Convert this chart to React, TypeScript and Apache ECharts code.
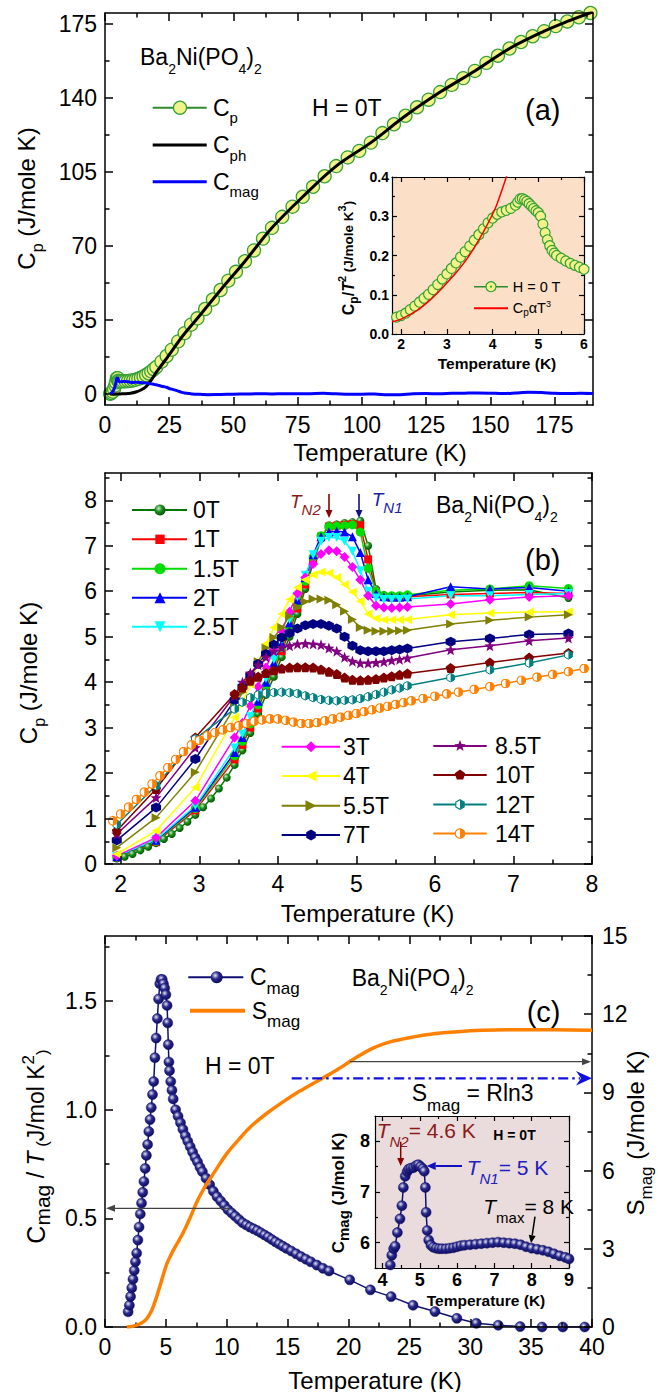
import React, { useEffect, useRef } from 'react';
import * as echarts from 'echarts';

const FONT = 'Arial, "Liberation Sans", Helvetica, sans-serif';

// ======================= DATA =======================
// (a) main panel: Cp, Cph, Cmag (J/mole K) vs T (K)
const aCpT = [2, 2.5, 3, 3.5, 4, 4.3, 4.6, 4.8, 5, 5.2, 5.5, 6, 7, 8, 9, 10, 11, 12, 13, 14, 15, 16, 17, 18, 19, 20, 22, 24, 26, 28.5, 31, 33.5, 36, 39, 42, 45, 48, 51, 54.5, 58, 61.5, 65, 69, 73, 77, 81, 85.5, 90, 94.5, 99, 103.5, 108, 112.5, 117, 121.5, 126, 130.5, 135, 139.5, 144, 148.5, 153, 157.5, 162, 166.5, 171, 175.5, 180, 184.5, 189];
const aCpV = [0.13, 0.46, 1.1, 2.4, 4.1, 5.5, 7.4, 7.5, 7.52, 6.3, 5.9, 5.95, 6.0, 6.05, 6.15, 6.3, 6.5, 6.8, 7.2, 7.7, 8.3, 9.0, 9.8, 10.7, 11.7, 12.8, 15.3, 18.0, 21.0, 24.9, 28.8, 32.8, 35.8, 40.2, 44.7, 49.2, 53.6, 57.8, 62.8, 67.9, 73.5, 78.6, 83.8, 88.6, 93.3, 98.0, 103.0, 107.8, 111.9, 115.0, 118.9, 123.4, 127.6, 131.6, 135.6, 139.2, 142.8, 146.2, 149.4, 152.8, 156.6, 160.0, 163.4, 166.5, 169.2, 171.6, 174.0, 176.2, 178.2, 180.2];
const aPhT = [2, 4, 6, 8, 10, 12, 14, 16, 18, 20, 22, 24, 26, 28.5, 31, 36, 45, 54.5, 65, 77, 90, 103.5, 117, 130.5, 144, 157.5, 171, 180, 190];
const aPhV = [0, 0.02, 0.06, 0.15, 0.4, 0.95, 1.9, 3.5, 6.6, 10.3, 13.6, 16.9, 20.3, 24.6, 28.6, 35.8, 49.2, 62.8, 78.6, 93.3, 107.8, 118.9, 131.6, 142.8, 152.8, 163.4, 171.6, 176.2, 180.8];
const aMagT = [2, 3, 3.5, 4, 4.3, 4.6, 5, 5.2, 5.5, 6, 7, 8, 9, 10, 11, 12, 13, 14, 15, 16, 17, 18, 19, 20, 21, 22, 23, 24, 25, 26, 27, 28, 29, 30, 31, 32, 33, 34, 36, 38, 40, 45, 50, 55, 60, 65, 70, 75, 80, 85, 90, 95, 100, 105, 110, 115, 120, 125, 130, 135, 140, 145, 150, 155, 160, 165, 170, 175, 180, 185, 190];
const aMagV = [0.15, 1.1, 2.3, 4.1, 5.6, 7.4, 7.6, 6.4, 5.85, 5.8, 5.9, 5.95, 5.8, 5.6, 5.5, 5.55, 5.5, 5.4, 5.35, 5.2, 5.0, 4.8, 4.6, 4.4, 4.0, 3.7, 3.45, 3.2, 2.6, 2.3, 1.95, 1.6, 1.2, 0.75, 0.5, 0.35, 0.2, 0.05, -0.1, -0.2, -0.3, -0.2, -0.1, 0, 0.1, 0.05, 0.1, 0.1, 0.15, 0.3, 0.1, -0.1, -0.1, 0, -0.4, -0.3, 0.1, 0.2, 0.1, 0.3, 0.4, 0.5, 0.4, 0.2, 0.5, 0.8, 0.7, 0.3, 0.2, 0.3, 0.2];
const aXMajor = [0, 25, 50, 75, 100, 125, 150, 175];
const aXMinor = [12.5, 37.5, 62.5, 87.5, 112.5, 137.5, 162.5, 187.5];
const aYMajor = [0, 35, 70, 105, 140, 175];
const aYMinor = [17.5, 52.5, 87.5, 122.5, 157.5];

// (a) inset: Cp/T^2 vs T
const iaT = [1.9, 2.0, 2.1, 2.2, 2.3, 2.4, 2.5, 2.6, 2.7, 2.8, 2.9, 3.0, 3.1, 3.2, 3.3, 3.4, 3.5, 3.6, 3.7, 3.8, 3.9, 4.0, 4.1, 4.2, 4.3, 4.4, 4.5, 4.55, 4.6, 4.65, 4.7, 4.75, 4.8, 4.85, 4.9, 4.95, 5.0, 5.05, 5.1, 5.15, 5.2, 5.25, 5.3, 5.35, 5.4, 5.5, 5.6, 5.7, 5.8, 5.9, 6.0];
const iaV = [0.043, 0.047, 0.053, 0.062, 0.071, 0.081, 0.091, 0.101, 0.113, 0.126, 0.14, 0.153, 0.167, 0.181, 0.196, 0.21, 0.224, 0.239, 0.253, 0.268, 0.283, 0.295, 0.305, 0.311, 0.315, 0.32, 0.328, 0.336, 0.344, 0.345, 0.342, 0.338, 0.332, 0.326, 0.32, 0.314, 0.309, 0.3, 0.28, 0.258, 0.24, 0.225, 0.213, 0.206, 0.2, 0.193, 0.186, 0.18, 0.175, 0.17, 0.165];
const iaFitT = [1.8, 2.0, 2.2, 2.4, 2.6, 2.8, 3.0, 3.2, 3.4, 3.6, 3.8, 4.0, 4.1, 4.2, 4.3, 4.36];
const iaFitV = [0.031, 0.038, 0.05, 0.064, 0.083, 0.105, 0.13, 0.156, 0.185, 0.22, 0.26, 0.305, 0.332, 0.365, 0.4, 0.425];
const iaXMajor = [2, 3, 4, 5, 6];
const iaXMinor = [2.5, 3.5, 4.5, 5.5];
const iaYMajor = [0, 0.1, 0.2, 0.3, 0.4];
const iaYMinor = [0.05, 0.15, 0.25, 0.35];

// (b) Cp vs T in fields
const bLowT = [1.95, 2.45, 2.95, 3.45];
const bDenseT = [3.55, 3.65, 3.75, 3.85, 3.95, 4.05, 4.15, 4.25, 4.35, 4.45, 4.55, 4.65, 4.75, 4.85, 4.95, 5.05, 5.15, 5.25, 5.35, 5.45, 5.55, 5.65];
const bHighT = [6.2, 6.7, 7.2, 7.7];
const b0T_T = [1.95, 2.05, 2.15, 2.25, 2.35, 2.45, 2.55, 2.65, 2.75, 2.85, 2.95, 3.05, 3.15, 3.25, 3.35, 3.45, 3.55, 3.65, 3.75, 3.85, 3.95, 4.05, 4.15, 4.25, 4.35, 4.45, 4.55, 4.65, 4.75, 4.85, 4.95, 5.05, 5.15, 5.25, 5.35, 5.45, 5.55, 5.65, 6.2, 6.7, 7.2, 7.7];
const b0T = [0.12, 0.16, 0.22, 0.3, 0.38, 0.46, 0.55, 0.66, 0.79, 0.93, 1.08, 1.25, 1.44, 1.66, 1.9, 2.18, 2.5, 2.88, 3.3, 3.72, 4.12, 4.55, 5.0, 5.5, 6.05, 6.62, 7.15, 7.45, 7.47, 7.5, 7.52, 7.55, 7.0, 6.05, 5.92, 5.9, 5.88, 5.9, 5.98, 6.02, 6.03, 5.85];
const b1T = [0.15, 0.48, 1.18, 2.3, 2.62, 3.0, 3.42, 3.85, 4.25, 4.68, 5.12, 5.62, 6.15, 6.7, 7.2, 7.42, 7.44, 7.46, 7.48, 7.45, 6.7, 6.0, 5.88, 5.86, 5.86, 5.88, 5.93, 5.95, 5.97, 5.95];
const b1_5T = [0.15, 0.5, 1.22, 2.38, 2.7, 3.08, 3.5, 3.92, 4.33, 4.76, 5.2, 5.7, 6.22, 6.75, 7.22, 7.42, 7.43, 7.44, 7.46, 7.3, 6.5, 6.0, 5.9, 5.9, 5.9, 5.92, 6.02, 6.05, 6.12, 6.06];
const b2T = [0.16, 0.52, 1.25, 2.45, 2.78, 3.16, 3.58, 4.0, 4.42, 4.85, 5.3, 5.8, 6.3, 6.8, 7.2, 7.3, 7.32, 7.3, 7.2, 6.85, 6.25, 5.95, 5.88, 5.87, 5.87, 5.88, 6.1, 6.05, 6.08, 6.0];
const b2_5T = [0.17, 0.54, 1.28, 2.55, 2.86, 3.24, 3.66, 4.08, 4.5, 4.93, 5.38, 5.87, 6.35, 6.8, 7.1, 7.18, 7.18, 7.1, 6.88, 6.45, 6.0, 5.85, 5.82, 5.82, 5.82, 5.83, 5.9, 5.9, 5.93, 5.95];
const b3T = [0.18, 0.58, 1.39, 2.78, 3.1, 3.48, 3.9, 4.32, 4.72, 5.12, 5.55, 5.95, 6.3, 6.6, 6.82, 6.9, 6.88, 6.75, 6.53, 6.25, 5.9, 5.68, 5.64, 5.63, 5.64, 5.65, 5.72, 5.81, 5.87, 5.9];
const b4T = [0.22, 0.73, 1.68, 3.22, 3.55, 3.95, 4.4, 4.85, 5.2, 5.5, 5.82, 6.08, 6.25, 6.36, 6.42, 6.4, 6.3, 6.15, 5.98, 5.78, 5.5, 5.4, 5.37, 5.37, 5.37, 5.38, 5.48, 5.52, 5.54, 5.55];
const b5_5T = [0.36, 1.02, 2.02, 3.45, 3.78, 4.12, 4.45, 4.75, 4.98, 5.2, 5.45, 5.65, 5.77, 5.83, 5.83, 5.8, 5.7, 5.56, 5.38, 5.2, 5.14, 5.12, 5.12, 5.12, 5.13, 5.14, 5.28, 5.36, 5.43, 5.48];
const b7T = [0.52, 1.24, 2.31, 3.6, 3.9, 4.15, 4.4, 4.62, 4.82, 4.98, 5.08, 5.18, 5.25, 5.28, 5.28, 5.24, 5.18, 5.0, 4.8, 4.7, 4.68, 4.68, 4.68, 4.7, 4.72, 4.74, 4.89, 4.96, 5.05, 5.07];
const b8_5T = [0.66, 1.46, 2.56, 3.7, 4.0, 4.2, 4.38, 4.55, 4.68, 4.76, 4.8, 4.84, 4.85, 4.84, 4.82, 4.75, 4.68, 4.55, 4.46, 4.42, 4.42, 4.43, 4.45, 4.48, 4.5, 4.53, 4.71, 4.8, 4.91, 4.97];
const b10T = [0.73, 1.65, 2.78, 3.74, 3.88, 4.03, 4.12, 4.2, 4.26, 4.3, 4.32, 4.33, 4.33, 4.32, 4.28, 4.23, 4.18, 4.1, 4.05, 4.04, 4.05, 4.07, 4.1, 4.13, 4.16, 4.19, 4.31, 4.43, 4.54, 4.64];
const b12T = [0.87, 1.72, 2.75, 3.41, 3.56, 3.66, 3.72, 3.76, 3.77, 3.78, 3.77, 3.75, 3.7, 3.66, 3.62, 3.6, 3.59, 3.6, 3.61, 3.64, 3.68, 3.73, 3.78, 3.83, 3.87, 3.92, 4.1, 4.27, 4.42, 4.6];
const b14T_T = [1.9, 2.0, 2.1, 2.2, 2.3, 2.4, 2.5, 2.6, 2.7, 2.8, 2.9, 3.0, 3.1, 3.2, 3.3, 3.4, 3.5, 3.6, 3.7, 3.8, 3.9, 4.0, 4.1, 4.2, 4.3, 4.4, 4.5, 4.6, 4.7, 4.8, 4.9, 5.0, 5.1, 5.2, 5.3, 5.4, 5.5, 5.6, 5.7, 5.85, 6.0, 6.15, 6.3, 6.5, 6.7, 6.9, 7.1, 7.3, 7.5, 7.7, 7.9];
const b14T = [0.95, 1.1, 1.25, 1.42, 1.58, 1.76, 1.94, 2.12, 2.3, 2.47, 2.62, 2.72, 2.82, 2.89, 2.95, 3.0, 3.04, 3.09, 3.14, 3.17, 3.19, 3.19, 3.16, 3.12, 3.09, 3.09, 3.11, 3.15, 3.19, 3.23, 3.27, 3.31, 3.35, 3.39, 3.43, 3.47, 3.51, 3.55, 3.59, 3.64, 3.69, 3.74, 3.78, 3.84, 3.9, 3.97, 4.04, 4.11, 4.17, 4.23, 4.3];
const bXMajor = [2, 3, 4, 5, 6, 7, 8];
const bXMinor = [2.5, 3.5, 4.5, 5.5, 6.5, 7.5];
const bYMajor = [0, 1, 2, 3, 4, 5, 6, 7, 8];
const bYMinor = [0.5, 1.5, 2.5, 3.5, 4.5, 5.5, 6.5, 7.5, 8.5];

// (c) Cmag/T and Smag vs T
const cT = [1.9, 2.0, 2.1, 2.2, 2.3, 2.4, 2.5, 2.6, 2.7, 2.8, 2.9, 3.0, 3.1, 3.2, 3.3, 3.4, 3.5, 3.6, 3.7, 3.8, 3.9, 4.0, 4.1, 4.2, 4.3, 4.4, 4.5, 4.6, 4.7, 4.8, 4.9, 5.0, 5.1, 5.15, 5.2, 5.25, 5.3, 5.4, 5.5, 5.6, 5.8, 6.0, 6.2, 6.4, 6.6, 6.8, 7.0, 7.2, 7.4, 7.6, 7.8, 8.0, 8.3, 8.6, 8.9, 9.2, 9.5, 9.8, 10.1, 10.4, 10.7, 11.0, 11.3, 11.6, 11.9, 12.2, 12.5, 12.8, 13.1, 13.4, 13.7, 14.0, 14.3, 14.6, 14.9, 15.3, 15.7, 16.1, 16.5, 16.9, 17.4, 17.9, 18.4, 20.1, 21.8, 23.5, 25.3, 27.1, 28.9, 30.5, 32.3, 34.1, 35.9, 37.6, 39.4];
const cV = [0.07, 0.1, 0.14, 0.18, 0.22, 0.26, 0.3, 0.34, 0.4, 0.46, 0.52, 0.57, 0.62, 0.67, 0.73, 0.79, 0.84, 0.9, 0.955, 1.01, 1.07, 1.13, 1.24, 1.33, 1.42, 1.51, 1.58, 1.6, 1.6, 1.58, 1.56, 1.53, 1.48, 1.4, 1.3, 1.22, 1.18, 1.13, 1.09, 1.05, 1.0, 0.97, 0.94, 0.91, 0.88, 0.855, 0.83, 0.805, 0.78, 0.76, 0.735, 0.715, 0.685, 0.655, 0.625, 0.6, 0.58, 0.56, 0.54, 0.525, 0.51, 0.495, 0.48, 0.47, 0.46, 0.452, 0.444, 0.434, 0.424, 0.414, 0.403, 0.392, 0.382, 0.372, 0.362, 0.35, 0.337, 0.324, 0.312, 0.3, 0.285, 0.27, 0.258, 0.217, 0.171, 0.14, 0.1, 0.071, 0.04, 0.017, 0.008, 0.002, 0, 0, 0];
const sT = [1.8, 2.2, 2.6, 3.0, 3.4, 3.8, 4.2, 4.5, 4.8, 5.1, 5.4, 5.8, 6.4, 7.0, 7.6, 8.3, 9.0, 10, 11, 12, 13.3, 14.5, 16, 17.5, 19, 20.5, 22, 23.5, 25, 27, 29, 31, 33, 35, 37, 40];
const sV = [0, 0.02, 0.07, 0.15, 0.3, 0.6, 1.1, 1.55, 2.02, 2.45, 2.75, 3.1, 3.6, 4.2, 4.85, 5.45, 5.95, 6.65, 7.2, 7.7, 8.2, 8.6, 9.05, 9.45, 9.85, 10.3, 10.7, 10.95, 11.1, 11.25, 11.33, 11.38, 11.4, 11.4, 11.4, 11.38];
const cXMajor = [0, 5, 10, 15, 20, 25, 30, 35, 40];
const cXMinor = [2.5, 7.5, 12.5, 17.5, 22.5, 27.5, 32.5, 37.5];
const cYMajor = [0, 0.5, 1.0, 1.5];
const cYMinor = [0.25, 0.75, 1.25, 1.75];
const cRMajor = [0, 3, 6, 9, 12, 15];
const cRMinor = [1.5, 4.5, 7.5, 10.5, 13.5];

// (c) inset: Cmag vs T
const icT = [4.15, 4.21, 4.25, 4.3, 4.34, 4.4, 4.47, 4.52, 4.56, 4.61, 4.66, 4.7, 4.76, 4.83, 4.9, 4.96, 5.02, 5.08, 5.12, 5.15, 5.17, 5.2, 5.24, 5.3, 5.36, 5.44, 5.52, 5.6, 5.7, 5.8, 5.9, 6.0, 6.1, 6.2, 6.35, 6.5, 6.65, 6.8, 6.95, 7.1, 7.25, 7.4, 7.55, 7.7, 7.85, 8.0, 8.15, 8.3, 8.45, 8.6, 8.75, 8.9, 9.0];
const icV = [5.4, 5.56, 5.75, 5.88, 5.93, 6.2, 6.47, 6.73, 7.09, 7.31, 7.4, 7.45, 7.47, 7.48, 7.52, 7.54, 7.5, 7.46, 7.41, 7.09, 6.6, 6.24, 6.05, 5.95, 5.91, 5.89, 5.88, 5.88, 5.88, 5.89, 5.9, 5.92, 5.94, 5.95, 5.96, 5.97, 5.98, 5.99, 6.0, 6.01, 6.0, 5.99, 5.98, 5.96, 5.92, 5.89, 5.87, 5.85, 5.82, 5.78, 5.74, 5.71, 5.68];
const icXMajor = [4, 5, 6, 7, 8, 9];
const icXMinor = [4.5, 5.5, 6.5, 7.5, 8.5];
const icYMajor = [6, 7, 8];
const icYMinor = [5.5, 6.5, 7.5];

// ======================= HELPERS =======================
const zip = (t: number[], v: number[]) => t.map((x, i) => [x, v[i]]);
const dataUri = (svg: string) => 'data:image/svg+xml;charset=utf-8,' + encodeURIComponent(svg);

function regPts(cx: number, cy: number, r: number, n: number, start: number) {
  const p: number[][] = [];
  for (let k = 0; k < n; k++) {
    const a = ((start + (360 * k) / n) * Math.PI) / 180;
    p.push([cx + r * Math.cos(a), cy + r * Math.sin(a)]);
  }
  return p;
}
function starPts(cx: number, cy: number, r: number) {
  const p: number[][] = [];
  for (let k = 0; k < 10; k++) {
    const a = ((-90 + 36 * k) * Math.PI) / 180;
    const rr = k % 2 ? r * 0.42 : r;
    p.push([cx + rr * Math.cos(a), cy + rr * Math.sin(a)]);
  }
  return p;
}
const ptsPath = (p: number[][]) => 'path://' + p.map((q, i) => (i ? 'L' : 'M') + q[0].toFixed(2) + ' ' + q[1].toFixed(2)).join(' ') + ' Z';

function halfCircleSvg(c: string) {
  return `<svg xmlns="http://www.w3.org/2000/svg" width="20" height="20" viewBox="0 0 20 20"><circle cx="10" cy="10" r="8.6" fill="#ffffff" stroke="${c}" stroke-width="2.2"/><path d="M10 1.4 A8.6 8.6 0 0 1 10 18.6 Z" fill="${c}"/></svg>`;
}
function halfHexSvg(c: string) {
  const p = regPts(10, 10, 8.8, 6, -90);
  const all = p.map((q) => q[0].toFixed(2) + ',' + q[1].toFixed(2)).join(' ');
  const half = [p[0], p[1], p[2], p[3]].map((q) => q[0].toFixed(2) + ',' + q[1].toFixed(2)).join(' ');
  return `<svg xmlns="http://www.w3.org/2000/svg" width="20" height="20" viewBox="0 0 20 20"><polygon points="${all}" fill="#ffffff" stroke="${c}" stroke-width="2"/><polygon points="${half}" fill="${c}"/></svg>`;
}
const sphere = (light: string, mid: string, dark: string) => ({
  type: 'radial', x: 0.38, y: 0.35, r: 0.68,
  colorStops: [{ offset: 0, color: light }, { offset: 0.45, color: mid }, { offset: 1, color: dark }],
});

const NAVY_BALL = sphere('#e6e6f6', '#2a2a8c', '#0a0a5a');
const GREEN_BALL = sphere('#c8f0c8', '#1f8f1f', '#005400');

function seriesSymbol(kind: string, color: string) {
  switch (kind) {
    case 'sphere': return { symbol: 'circle', symbolSize: 8, itemStyle: { color: GREEN_BALL } };
    case 'rect': return { symbol: 'rect', symbolSize: 8, itemStyle: { color } };
    case 'circle': return { symbol: 'circle', symbolSize: 9, itemStyle: { color } };
    case 'triUp': return { symbol: 'triangle', symbolSize: 9, itemStyle: { color } };
    case 'triDown': return { symbol: 'triangle', symbolSize: 9, symbolRotate: 180, itemStyle: { color } };
    case 'triLeft': return { symbol: 'triangle', symbolSize: 9, symbolRotate: 90, itemStyle: { color } };
    case 'triRight': return { symbol: 'triangle', symbolSize: 9, symbolRotate: -90, itemStyle: { color } };
    case 'diamond': return { symbol: 'diamond', symbolSize: 10, itemStyle: { color } };
    case 'hexagon': return { symbol: ptsPath(regPts(0, 0, 10, 6, -90)), symbolSize: 10, itemStyle: { color } };
    case 'pentagon': return { symbol: ptsPath(regPts(0, 0, 10, 5, -90)), symbolSize: 10, itemStyle: { color } };
    case 'star': return { symbol: ptsPath(starPts(0, 0, 10)), symbolSize: 11, itemStyle: { color } };
    case 'halfHex': return { symbol: 'image://' + dataUri(halfHexSvg(color)), symbolSize: 10, itemStyle: { color } };
    case 'halfCircle': return { symbol: 'image://' + dataUri(halfCircleSvg(color)), symbolSize: 10, itemStyle: { color } };
  }
  return { symbol: 'circle', symbolSize: 9, itemStyle: { color } };
}

function gMarker(kind: string, cx: number, cy: number, s: number, color: string) {
  const r = s / 2;
  const poly = (pts: number[][]) => ({ type: 'polygon', z: 102, silent: true, shape: { points: pts }, style: { fill: color } });
  switch (kind) {
    case 'sphere': return { type: 'circle', z: 102, silent: true, shape: { cx, cy, r }, style: { fill: GREEN_BALL } };
    case 'circle': return { type: 'circle', z: 102, silent: true, shape: { cx, cy, r }, style: { fill: color } };
    case 'rect': return { type: 'rect', z: 102, silent: true, shape: { x: cx - r * 0.85, y: cy - r * 0.85, width: s * 0.85, height: s * 0.85 }, style: { fill: color } };
    case 'triUp': return poly([[cx, cy - r], [cx + r, cy + r], [cx - r, cy + r]]);
    case 'triDown': return poly([[cx, cy + r], [cx + r, cy - r], [cx - r, cy - r]]);
    case 'triLeft': return poly([[cx - r, cy], [cx + r, cy - r], [cx + r, cy + r]]);
    case 'triRight': return poly([[cx + r, cy], [cx - r, cy - r], [cx - r, cy + r]]);
    case 'diamond': return poly([[cx, cy - r], [cx + r, cy], [cx, cy + r], [cx - r, cy]]);
    case 'hexagon': return poly(regPts(cx, cy, r, 6, -90));
    case 'pentagon': return poly(regPts(cx, cy, r, 5, -90));
    case 'star': return poly(starPts(cx, cy, r * 1.1));
    case 'halfHex': return { type: 'image', z: 102, silent: true, style: { image: dataUri(halfHexSvg(color)), x: cx - r, y: cy - r, width: s, height: s } };
    case 'halfCircle': return { type: 'image', z: 102, silent: true, style: { image: dataUri(halfCircleSvg(color)), x: cx - r, y: cy - r, width: s, height: s } };
  }
  return { type: 'circle', z: 102, silent: true, shape: { cx, cy, r }, style: { fill: color } };
}

interface Ax { min: number; max: number; major: number[]; minor: number[]; fmt: (v: number) => string }
interface St { fs: number; fw: string; tick: number; minorTick: number; lw: number; xMargin: number; yMargin: number; z: number }

function addFrame(xs: any[], ys: any[], grid: number, x: Ax, y: Ax, st: St, right?: Ax, rightMargin = 10) {
  const mk = (pos: string, a: Ax, major: boolean, labels: boolean, margin: number) => ({
    type: 'value', gridIndex: grid, position: pos, min: a.min, max: a.max, z: st.z, silent: true,
    axisLine: { show: major, onZero: false, lineStyle: { color: '#000', width: st.lw } },
    axisTick: { show: true, inside: true, length: major ? st.tick : st.minorTick, customValues: major ? a.major : a.minor, lineStyle: { color: '#000', width: st.lw } },
    axisLabel: labels
      ? { show: true, customValues: a.major, formatter: (v: number) => a.fmt(v), fontSize: st.fs, fontWeight: st.fw, fontFamily: FONT, color: '#000', margin }
      : { show: false },
    splitLine: { show: false },
    axisPointer: { show: false },
  });
  const xi = xs.length;
  xs.push(mk('bottom', x, true, true, st.xMargin), mk('bottom', x, false, false, 0), mk('top', x, true, false, 0), mk('top', x, false, false, 0));
  const yi = ys.length;
  ys.push(mk('left', y, true, true, st.yMargin), mk('left', y, false, false, 0));
  const ri = ys.length;
  const r = right || y;
  ys.push(mk('right', r, true, !!right, rightMargin), mk('right', r, false, false, 0));
  return { xi, yi, ri };
}

const ts = (fs: number, o: any = {}) => ({ fontFamily: FONT, fontSize: fs, ...o });
const subS = (fs: number, h: number, o: any = {}) => ts(fs, { height: h, lineHeight: h, verticalAlign: 'bottom', ...o });
const supS = (fs: number, h: number, o: any = {}) => ts(fs, { height: h, lineHeight: h, verticalAlign: 'top', ...o });
const rich1 = (fs: number, sfs: number, d: number, o: any = {}) => ({ m: ts(fs, { lineHeight: 10 + 2 * d, ...o }), s: subS(sfs, 10, o) });

function TX(x: number, y: number, text: string, rich: any, o: any = {}) {
  return {
    type: 'text', x, y, rotation: o.rot || 0, z: 100, silent: true,
    style: {
      text, rich, fontFamily: FONT, fontSize: o.fs || 23, fontWeight: o.fw || 'normal', fontStyle: o.fst || 'normal',
      fill: o.fill || '#000', align: o.align || 'left', verticalAlign: 'middle',
    },
  };
}
function arrow(x1: number, y1: number, x2: number, y2: number, color: string, lw = 1.5, hl = 8, hw = 3.5) {
  const dx = x2 - x1, dy = y2 - y1, L = Math.hypot(dx, dy), ux = dx / L, uy = dy / L;
  const bx = x2 - ux * hl, by = y2 - uy * hl;
  return [
    { type: 'line', z: 99, silent: true, shape: { x1, y1, x2: bx, y2: by }, style: { stroke: color, lineWidth: lw } },
    { type: 'polygon', z: 99, silent: true, shape: { points: [[x2, y2], [bx - uy * hw, by + ux * hw], [bx + uy * hw, by - ux * hw]] }, style: { fill: color } },
  ];
}

const FIELDS = [
  { name: '0T', color: '#007800', kind: 'sphere', t: b0T_T, v: b0T },
  { name: '1T', color: '#FF0000', kind: 'rect', t: null, v: b1T },
  { name: '1.5T', color: '#00DD00', kind: 'circle', t: null, v: b1_5T },
  { name: '2T', color: '#0000FF', kind: 'triUp', t: null, v: b2T },
  { name: '2.5T', color: '#00FFFF', kind: 'triDown', t: null, v: b2_5T },
  { name: '3T', color: '#FF00FF', kind: 'diamond', t: null, v: b3T },
  { name: '4T', color: '#FFFF00', kind: 'triLeft', t: null, v: b4T },
  { name: '5.5T', color: '#808000', kind: 'triRight', t: null, v: b5_5T },
  { name: '7T', color: '#000080', kind: 'hexagon', t: null, v: b7T },
  { name: '8.5T', color: '#800080', kind: 'star', t: null, v: b8_5T },
  { name: '10T', color: '#800000', kind: 'pentagon', t: null, v: b10T },
  { name: '12T', color: '#008080', kind: 'halfHex', t: null, v: b12T },
  { name: '14T', color: '#FF8000', kind: 'halfCircle', t: b14T_T, v: b14T },
];

function buildOption() {
  const xs: any[] = [];
  const ys: any[] = [];
  const MAIN: St = { fs: 23, fw: 'normal', tick: 8, minorTick: 4.5, lw: 1.5, xMargin: 8, yMargin: 8, z: 3 };
  const INA: St = { fs: 14, fw: 'bold', tick: 5, minorTick: 3, lw: 1.2, xMargin: 3, yMargin: 3, z: 10 };
  const INC: St = { fs: 18, fw: 'bold', tick: 5, minorTick: 3, lw: 1.2, xMargin: 3, yMargin: 5, z: 10 };
  const int = (v: number) => String(v);
  const one = (v: number) => v.toFixed(1);

  const fa = addFrame(xs, ys, 0, { min: 0, max: 190, major: aXMajor, minor: aXMinor, fmt: int }, { min: -5.2, max: 180.2, major: aYMajor, minor: aYMinor, fmt: int }, MAIN);
  const fia = addFrame(xs, ys, 1, { min: 1.8, max: 6, major: iaXMajor, minor: iaXMinor, fmt: int }, { min: 0, max: 0.4, major: iaYMajor, minor: iaYMinor, fmt: one }, INA);
  const fb = addFrame(xs, ys, 2, { min: 1.8, max: 8, major: bXMajor, minor: bXMinor, fmt: int }, { min: 0, max: 8.6, major: bYMajor, minor: bYMinor, fmt: int }, MAIN);
  const fc = addFrame(xs, ys, 3, { min: 0, max: 40, major: cXMajor, minor: cXMinor, fmt: int }, { min: 0, max: 1.8, major: cYMajor, minor: cYMinor, fmt: one }, MAIN,
    { min: 0, max: 15, major: cRMajor, minor: cRMinor, fmt: int }, 10);
  const fic = addFrame(xs, ys, 4, { min: 3.8, max: 9, major: icXMajor, minor: icXMinor, fmt: int }, { min: 5.5, max: 8.5, major: icYMajor, minor: icYMinor, fmt: int }, INC);

  const grids = [
    { left: 105, top: 13, width: 488, height: 392, show: false },
    { left: 392, top: 177, width: 192, height: 157, show: true, backgroundColor: '#FBDFC6', borderWidth: 0 },
    { left: 105, top: 473, width: 487, height: 391, show: false },
    { left: 105, top: 936, width: 487, height: 391, show: false },
    { left: 375, top: 1116, width: 194, height: 152, show: true, backgroundColor: '#EADCDC', borderWidth: 0 },
  ];

  const series: any[] = [];
  // (a)
  series.push({ type: 'line', xAxisIndex: fa.xi, yAxisIndex: fa.yi, data: zip(aCpT, aCpV), symbol: 'circle', symbolSize: 13,
    lineStyle: { color: '#2E8B2E', width: 1.5 }, itemStyle: { color: '#F2F28A', borderColor: '#35A035', borderWidth: 1.3 }, z: 2 });
  series.push({ type: 'line', xAxisIndex: fa.xi, yAxisIndex: fa.yi, data: zip(aPhT, aPhV), symbol: 'none', smooth: 0.35,
    lineStyle: { color: '#000', width: 3 }, z: 3 });
  series.push({ type: 'line', xAxisIndex: fa.xi, yAxisIndex: fa.yi, data: zip(aMagT, aMagV), symbol: 'none', smooth: 0.3,
    lineStyle: { color: '#0000FF', width: 3 }, z: 4 });
  // (a) inset
  series.push({ type: 'line', xAxisIndex: fia.xi, yAxisIndex: fia.yi, data: zip(iaT, iaV), symbol: 'circle', symbolSize: 10,
    lineStyle: { color: '#2E8B2E', width: 1.2 }, itemStyle: { color: '#F2F28A', borderColor: '#35A035', borderWidth: 1.2 }, z: 12 });
  series.push({ type: 'line', xAxisIndex: fia.xi, yAxisIndex: fia.yi, data: zip(iaFitT, iaFitV), symbol: 'none', smooth: 0.3,
    lineStyle: { color: '#FF0000', width: 1.5 }, z: 13 });
  // (b)
  const commonT = [...bLowT, ...bDenseT, ...bHighT];
  FIELDS.forEach((f) => {
    const sym: any = seriesSymbol(f.kind, f.color);
    series.push({
      type: 'line', name: f.name, xAxisIndex: fb.xi, yAxisIndex: fb.yi, data: zip(f.t || commonT, f.v),
      ...sym, lineStyle: { color: f.color, width: 1.5 }, z: 2,
    });
  });
  // (c)
  series.push({ type: 'line', xAxisIndex: fc.xi, yAxisIndex: fc.yi, data: zip(cT, cV), symbol: 'circle', symbolSize: 10,
    lineStyle: { color: '#101070', width: 1.5 }, itemStyle: { color: NAVY_BALL, borderColor: '#10106a', borderWidth: 0.5 }, z: 2 });
  series.push({ type: 'line', xAxisIndex: fc.xi, yAxisIndex: fc.ri, data: zip(sT, sV), symbol: 'none', smooth: 0.3,
    lineStyle: { color: '#FF8000', width: 3.5 }, z: 3 });
  // (c) inset
  series.push({ type: 'line', xAxisIndex: fic.xi, yAxisIndex: fic.yi, data: zip(icT, icV), symbol: 'circle', symbolSize: 10,
    lineStyle: { color: '#101070', width: 1.5 }, itemStyle: { color: NAVY_BALL, borderColor: '#10106a', borderWidth: 0.5 }, z: 12 });

  // ---------------- graphics ----------------
  const g: any[] = [];
  const formula = '{m|Ba}{s|2}{m|Ni(PO}{s|4}{m|)}{s|2}';
  // (a)
  g.push(TX(26, 198.5, '{m|C}{s|p}{m| (J/mole K)}', rich1(24, 16, 11), { rot: Math.PI / 2, align: 'center' }));
  g.push(TX(380, 452, 'Temperature (K)', undefined, { fs: 24, align: 'center' }));
  g.push(TX(140, 56.7, formula, rich1(23, 14, 12)));
  g.push(TX(312, 108, 'H = 0T', undefined, { fs: 23 }));
  g.push(TX(525, 110, '(a)', undefined, { fs: 29 }));
  // legend (a)
  g.push({ type: 'line', z: 99, silent: true, shape: { x1: 152.7, y1: 107.7, x2: 206.7, y2: 107.7 }, style: { stroke: '#2E8B2E', lineWidth: 2 } });
  g.push({ type: 'circle', z: 100, silent: true, shape: { cx: 180, cy: 107.7, r: 6.5 }, style: { fill: '#F2F28A', stroke: '#35A035', lineWidth: 1.3 } });
  g.push(TX(213, 107.7, '{m|C}{s|p}', rich1(23, 15, 10)));
  g.push({ type: 'line', z: 99, silent: true, shape: { x1: 152.7, y1: 145, x2: 206.7, y2: 145 }, style: { stroke: '#000', lineWidth: 3 } });
  g.push(TX(213, 145, '{m|C}{s|ph}', rich1(23, 15, 10)));
  g.push({ type: 'line', z: 99, silent: true, shape: { x1: 152.7, y1: 181.7, x2: 206.7, y2: 181.7 }, style: { stroke: '#0000FF', lineWidth: 3 } });
  g.push(TX(213, 181.7, '{m|C}{s|mag}', rich1(23, 15, 10)));
  // (a) inset texts
  g.push(TX(348, 258, '{m|C}{s|p}{m|/}{i|T}{u|2}{n| (J/mole K}{u|3}{n|)}', {
    m: ts(16, { fontWeight: 'bold', lineHeight: 22 }),
    s: subS(12, 10, { fontWeight: 'bold' }),
    i: ts(16, { fontWeight: 'bold', fontStyle: 'italic', lineHeight: 22 }),
    u: supS(11, 10, { fontWeight: 'bold' }),
    n: ts(13.5, { fontWeight: 'bold', lineHeight: 22 }),
  }, { rot: Math.PI / 2, align: 'center', fs: 16, fw: 'bold' }));
  g.push(TX(497, 363.3, 'Temperature (K)', undefined, { fs: 15.5, fw: 'bold', align: 'center' }));
  g.push({ type: 'line', z: 99, silent: true, shape: { x1: 474, y1: 286.7, x2: 508, y2: 286.7 }, style: { stroke: '#2E8B2E', lineWidth: 1.5 } });
  g.push({ type: 'circle', z: 100, silent: true, shape: { cx: 491, cy: 286.7, r: 5 }, style: { fill: '#F2F28A', stroke: '#35A035', lineWidth: 1.2 } });
  g.push({ type: 'circle', z: 101, silent: true, shape: { cx: 491, cy: 286.7, r: 1 }, style: { fill: '#35A035' } });
  g.push(TX(512.7, 286.7, 'H = 0 T', undefined, { fs: 14.5 }));
  g.push({ type: 'line', z: 99, silent: true, shape: { x1: 474, y1: 308.3, x2: 508, y2: 308.3 }, style: { stroke: '#FF0000', lineWidth: 2 } });
  g.push(TX(512.7, 308.3, '{m|C}{s|p}{m|αT}{u|3}', { m: ts(14.5, { lineHeight: 18 }), s: subS(10, 10), u: supS(9, 10) }));

  // (b)
  g.push(TX(28, 673, '{m|C}{s|p}{m| (J/mole K)}', rich1(24, 16, 11), { rot: Math.PI / 2, align: 'center' }));
  g.push(TX(367.5, 913, 'Temperature (K)', undefined, { fs: 24, align: 'center' }));
  g.push(TX(436, 505, formula, rich1(23, 14, 12)));
  g.push(TX(525, 560, '(b)', undefined, { fs: 29 }));
  g.push(TX(290, 501.7, '{i|T}{si|N2}', { i: ts(19, { fontStyle: 'italic', lineHeight: 26 }), si: subS(15, 10, { fontStyle: 'italic' }) }, { fill: '#8B1A1A' }));
  g.push(TX(371.7, 499, '{i|T}{si|N1}', { i: ts(19, { fontStyle: 'italic', lineHeight: 26 }), si: subS(15, 10, { fontStyle: 'italic' }) }, { fill: '#2222AA' }));
  g.push(...arrow(329, 494, 329, 518, '#8B0000', 1.6, 8, 3.5));
  g.push(...arrow(359, 494, 359, 518, '#101080', 1.6, 8, 3.5));
  // legend (b)
  const legRows = [
    { x0: 132, x1: 187, mx: 160, tx: 193, y: 510 },
    { x0: 132, x1: 187, mx: 160, tx: 193, y: 539.3 },
    { x0: 132, x1: 187, mx: 160, tx: 193, y: 568.7 },
    { x0: 132, x1: 187, mx: 160, tx: 193, y: 597.7 },
    { x0: 132, x1: 187, mx: 160, tx: 193, y: 626.7 },
    { x0: 281.7, x1: 340, mx: 311, tx: 343, y: 746.7 },
    { x0: 281.7, x1: 340, mx: 311, tx: 343, y: 776 },
    { x0: 281.7, x1: 340, mx: 311, tx: 343, y: 805.7 },
    { x0: 281.7, x1: 340, mx: 311, tx: 343, y: 835 },
    { x0: 433.3, x1: 486.7, mx: 460, tx: 495, y: 746 },
    { x0: 433.3, x1: 486.7, mx: 460, tx: 495, y: 775 },
    { x0: 433.3, x1: 486.7, mx: 460, tx: 495, y: 804.5 },
    { x0: 433.3, x1: 486.7, mx: 460, tx: 495, y: 833.5 },
  ];
  FIELDS.forEach((f, i) => {
    const r = legRows[i];
    g.push({ type: 'line', z: 99, silent: true, shape: { x1: r.x0, y1: r.y, x2: r.x1, y2: r.y }, style: { stroke: f.color, lineWidth: 2 } });
    g.push(gMarker(f.kind, r.mx, r.y, 11, f.color));
    g.push(TX(r.tx, r.y, f.name, undefined, { fs: 23 }));
  });

  // (c)
  g.push(TX(36, 1146.5, '{c|C}{s|mag}{m| / }{i|T}{p| (}{m|J/mol K}{u|2}{p|)}', {
    c: ts(25, { lineHeight: 26 }),
    m: ts(23, { lineHeight: 26 }),
    i: ts(23, { fontStyle: 'italic', lineHeight: 26 }),
    s: subS(21, 14),
    p: subS(17, 14),
    u: supS(17, 10),
  }, { rot: Math.PI / 2, align: 'center' }));
  g.push(TX(635, 1133, '{m|S}{s|mag}{m| (J/mole K)}', rich1(24, 17, 11), { rot: Math.PI / 2, align: 'center' }));
  g.push(TX(375, 1380, 'Temperature (K)', undefined, { fs: 24, align: 'center' }));
  g.push(TX(351.7, 978.3, formula, rich1(23, 14, 12)));
  g.push(TX(526.7, 1011.7, '(c)', undefined, { fs: 29 }));
  g.push(TX(205, 1065.7, 'H = 0T', undefined, { fs: 23 }));
  g.push(TX(411.7, 1093.3, '{m|S}{s|mag}{m| = Rln3}', rich1(23, 17, 12)));
  // legend (c)
  g.push({ type: 'line', z: 99, silent: true, shape: { x1: 188.3, y1: 977.3, x2: 243.3, y2: 977.3 }, style: { stroke: '#101070', lineWidth: 2 } });
  g.push({ type: 'circle', z: 100, silent: true, shape: { cx: 216.7, cy: 977.3, r: 6 }, style: { fill: NAVY_BALL } });
  g.push(TX(250, 977.3, '{m|C}{s|mag}', rich1(23, 17, 11)));
  g.push({ type: 'line', z: 99, silent: true, shape: { x1: 190, y1: 1010.7, x2: 245, y2: 1010.7 }, style: { stroke: '#FF8000', lineWidth: 4 } });
  g.push(TX(251.7, 1010.7, '{m|S}{s|mag}', rich1(23, 17, 11)));
  // arrows (c)
  g.push(...arrow(230, 1208.3, 106, 1208.3, '#444', 1.2, 9, 3.5));
  g.push(...arrow(350, 1061.7, 591, 1061.7, '#444', 1.2, 9, 3.5));
  g.push({ type: 'line', z: 99, silent: true, shape: { x1: 291.7, y1: 1078.3, x2: 580, y2: 1078.3 }, style: { stroke: '#1010E0', lineWidth: 2.2, lineDash: [10, 4, 2.5, 4] } });
  g.push({ type: 'polygon', z: 99, silent: true, shape: { points: [[592, 1078.3], [576, 1071], [581, 1078.3], [576, 1085.6]] }, style: { fill: '#1010E0' } });
  // (c) inset texts
  g.push(TX(338, 1193, '{m|C}{s|mag}{m| (J/mol K)}', rich1(17, 15, 5, { fontWeight: 'bold' }), { rot: Math.PI / 2, align: 'center', fw: 'bold', fs: 17 }));
  g.push(TX(486, 1300.5, 'Temperature (K)', undefined, { fs: 15.5, fw: 'bold', align: 'center' }));
  g.push(TX(376.7, 1130, '{i|T}{si|N2}{m|= 4.6 K}', { i: ts(21, { fontStyle: 'italic', lineHeight: 32 }), si: subS(15, 10, { fontStyle: 'italic' }), m: ts(21, { lineHeight: 32 }) }, { fill: '#8B1A1A' }));
  g.push(TX(493.3, 1135, 'H = 0T', undefined, { fs: 14, fw: 'bold' }));
  g.push(TX(466.7, 1167, '{i|T}{si|N1}{m|= 5 K}', { i: ts(21, { fontStyle: 'italic', lineHeight: 32 }), si: subS(15, 10, { fontStyle: 'italic' }), m: ts(21, { lineHeight: 32 }) }, { fill: '#2020C0' }));
  g.push(TX(483.3, 1206.7, '{i|T}{s|max}{m|= 8 K}', { i: ts(21, { fontStyle: 'italic', lineHeight: 32 }), s: subS(15, 10), m: ts(21, { lineHeight: 32 }) }));
  g.push(...arrow(400.7, 1141.7, 400.7, 1166, '#8B0000', 1.5, 8, 3.5));
  g.push(...arrow(462, 1166, 426.7, 1166, '#1010C0', 2, 9, 4));
  g.push(...arrow(535, 1216.7, 531, 1243.3, '#000', 1.5, 8, 3.5));

  return {
    animation: false,
    backgroundColor: '#ffffff',
    textStyle: { fontFamily: FONT },
    grid: grids,
    xAxis: xs,
    yAxis: ys,
    series,
    graphic: { elements: g },
  };
}

export default function App() {
  const ref = useRef<HTMLDivElement>(null);
  useEffect(() => {
    if (!ref.current) return;
    const chart = echarts.init(ref.current, null, { renderer: 'svg' });
    chart.setOption(buildOption() as any);
    return () => chart.dispose();
  }, []);
  return <div ref={ref} style={{ position: 'absolute', left: 0, top: 0, width: 658, height: 1392, background: '#fff' }} />;
}
